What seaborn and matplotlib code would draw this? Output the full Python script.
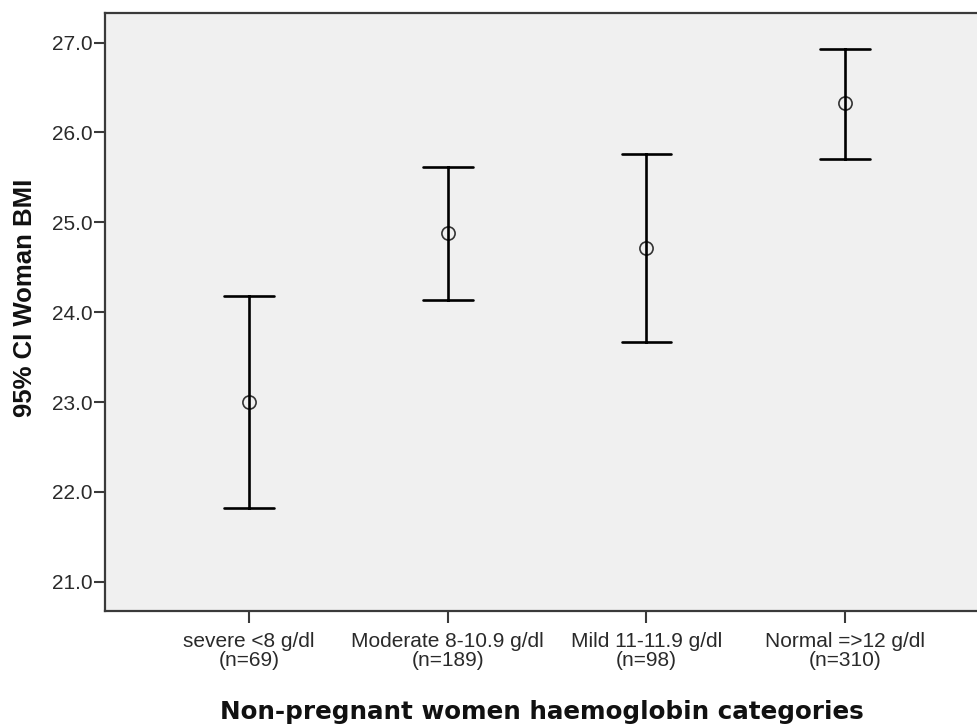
import matplotlib
matplotlib.use("Agg")
import matplotlib.pyplot as plt
import seaborn as sns
import pandas as pd

categories = ["severe <8 g/dl\n(n=69)", "Moderate 8-10.9 g/dl\n(n=189)",
              "Mild 11-11.9 g/dl\n(n=98)", "Normal =>12 g/dl\n(n=310)"]
means = [23.00, 24.88, 24.71, 26.33]
ci_low = [21.82, 24.14, 23.665, 25.71]
ci_high = [24.18, 25.62, 25.76, 26.93]
yticks = [21.0, 22.0, 23.0, 24.0, 25.0, 26.0, 27.0]

rows = []
for c, m, lo, hi in zip(categories, means, ci_low, ci_high):
    for v in (lo, m, hi):
        rows.append({"cat": c, "bmi": v})
df = pd.DataFrame(rows)

sns.set_theme(style="white")
plt.rcParams["font.family"] = ["Liberation Sans", "DejaVu Sans"]

fig = plt.figure(figsize=(9.78, 7.27), dpi=100)
ax = fig.add_axes([105 / 978, (727 - 611) / 727, 1 - 105 / 978, (611 - 13) / 727])
ax.set_facecolor("#F0F0F0")

sns.pointplot(data=df, x="cat", y="bmi", order=categories,
              estimator="median", errorbar=("pi", 100),
              linestyle="none", markers="o", capsize=0.25,
              color="black",
              err_kws={"linewidth": 1.9, "color": "black"},
              markerfacecolor="none", markeredgecolor="#333333",
              markersize=9.5, markeredgewidth=1.2, ax=ax)

ax.set_ylim(20.674, 27.33)
ax.set_xlim(-0.725, 3.669)
ax.set_yticks(yticks)
ax.set_yticklabels([f"{t:.1f}" for t in yticks])

for s in ["left", "top", "bottom"]:
    ax.spines[s].set_color("#3a3a3a")
    ax.spines[s].set_linewidth(1.6)
ax.spines["right"].set_visible(False)

ax.tick_params(axis="both", which="major", direction="out", width=1.5,
               color="#3a3a3a", labelcolor="#2a2a2a", labelsize=15,
               left=True, bottom=True)
ax.tick_params(axis="y", length=8, pad=1)
ax.tick_params(axis="x", length=8.5, pad=6.5)
for lab in ax.get_xticklabels():
    lab.set_linespacing(1.0)

ax.set_ylabel("95% CI Woman BMI", fontsize=18.5, fontweight="bold",
              color="#111111")
ax.yaxis.set_label_coords(-0.078, 0.523)
ax.set_xlabel("Non-pregnant women haemoglobin categories", fontsize=17.7,
              fontweight="bold", family="DejaVu Sans", color="#111111", labelpad=22)

fig.savefig("out.png", dpi=100)
